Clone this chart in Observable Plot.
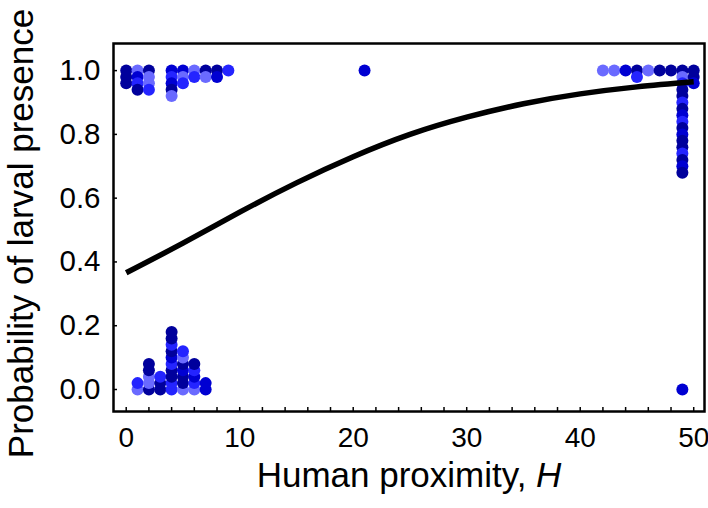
<!DOCTYPE html>
<html><head><meta charset="utf-8">
<script src="https://cdn.jsdelivr.net/npm/d3@7"></script>
<script src="https://cdn.jsdelivr.net/npm/@observablehq/plot@0.6"></script>
<style>body{margin:0;background:#fff}</style>
</head><body><div id="chart"></div>
<script>
// Observations with larvae present (y = 1), grouped by human proximity H; shade = group index
const presentH = [0, 1, 2, 4, 5, 6, 7, 8, 9, 21, 42, 43, 44, 45, 46, 47, 48, 49, 50];
const presentShades = [
  [0,0,0], [3,1,2,0], [0,3,3,2], [1,2,1,0,3], [1,3,2], [3,2], [0,3], [0,1], [2],
  [1], [3], [3], [1], [0,2], [3], [0], [0],
  [0,3,2,0,0,2,0,1,2,0,1,0,0,2,0,1,0],
  [0,0,1]
];
// Observations with larvae absent (y = 0)
const absentH = [1, 2, 3, 4, 5, 6, 7, 49];
const absentShades = [
  [3,2], [0,3,3,0,0], [0,0,2], [2,2,0,0,2,1,0,2,0,0], [3,0,0,1,0,3,2], [3,2,1,2,0], [1,1], [1]
];
// Fitted probability curve
const curveH = [0, 5, 10, 15, 20, 25, 30, 35, 40, 45, 50];
const curveP = [0.366, 0.459, 0.556, 0.648, 0.730, 0.800, 0.854, 0.896, 0.927, 0.949, 0.965];
// Ticks
const xTickMarks = [0,2,4,6,8,10,12,14,16,18,20,22,24,26,28,30,32,34,36,38,40,42,44,46,48,50];
const xTickLabels = [0, 10, 20, 30, 40, 50];
const yTicks = [0, 0.2, 0.4, 0.6, 0.8, 1.0];
const shadeColors = ["#00009c", "#0000d2", "#2424ff", "#6a6aff"];
const xTitle = "Human proximity, H";
const yTitle = "Probability of larval presence";

const STEP = 0.02; // dot-stack offset
const points = [];
presentH.forEach((h, i) => presentShades[i].forEach((s, k) => points.push({h, p: 1 - STEP * k, shade: s})));
absentH.forEach((h, i) => absentShades[i].forEach((s, k) => points.push({h, p: STEP * k, shade: s})));
const curve = curveH.map((h, i) => ({h, p: curveP[i]}));

const chart = Plot.plot({
  width: 708, height: 508,
  marginLeft: 113, marginRight: 4, marginTop: 43, marginBottom: 97,
  x: {domain: [-1.12, 50.95]},
  y: {domain: [-0.069, 1.085]},
  color: {type: "ordinal", domain: [0, 1, 2, 3], range: shadeColors},
  style: {fontFamily: "'Liberation Sans', Arial, Helvetica, sans-serif", fontSize: "28px", color: "black", background: "white", overflow: "visible"},
  marks: [
    Plot.dot(points, {x: "h", y: "p", fill: "shade", r: 6}),
    Plot.line(curve, {x: "h", y: "p", stroke: "black", strokeWidth: 5.5, curve: "natural", strokeLinecap: "butt"}),
    Plot.frame({stroke: "black", strokeWidth: 2.5}),
    Plot.axisX({ticks: xTickMarks, tickSize: -4, strokeWidth: 1.5, text: null, label: null}),
    Plot.axisX({ticks: xTickLabels, tickSize: 0, tickPadding: 16, fontSize: 28, label: null}),
    Plot.axisY({ticks: yTicks, tickSize: -4, strokeWidth: 1.5, text: null, label: null}),
    Plot.axisY({ticks: yTicks, tickSize: 0, tickPadding: 13, tickFormat: d3.format(".1f"), fontSize: 29.5, label: null}),
    Plot.text([xTitle], {text: d => d, frameAnchor: "bottom", dy: 75, fontSize: 35, className: "xtitle"}),
    Plot.text([yTitle], {text: d => d, frameAnchor: "left", textAnchor: "middle", rotate: -90, dx: -92, dy: 6, fontSize: 35})
  ]
});
document.getElementById("chart").appendChild(chart);
// italic H in the x-axis title
const t = chart.querySelector(".xtitle text");
if (t) {
  t.textContent = "Human proximity, ";
  const ts = document.createElementNS("http://www.w3.org/2000/svg", "tspan");
  ts.setAttribute("font-style", "italic");
  ts.textContent = "H";
  t.appendChild(ts);
}
</script>
</body></html>
